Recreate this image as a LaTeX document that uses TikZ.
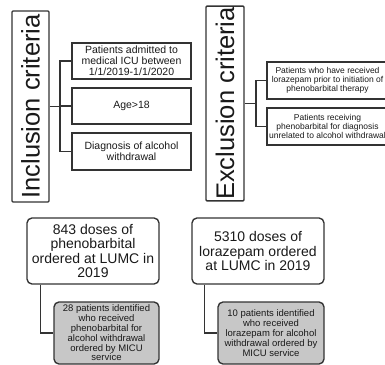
\documentclass[tikz,border=0pt]{standalone}
\usepackage{fontspec}
\setmainfont{Liberation Sans}
\begin{document}
\begin{tikzpicture}[x=1pt,y=-1pt,
  box/.style={draw=black!80, line width=1.35pt, inner sep=1pt, align=center, text=black!90},
  title/.style={box, rotate=90, font=\fontsize{25.5}{27}\selectfont, rounded corners=1pt},
  incl/.style={box, minimum width=119pt, font=\fontsize{10.5}{11.2}\selectfont},
  excl/.style={box, minimum width=121pt, minimum height=37pt, font=\fontsize{8.5}{9}\selectfont},
  big/.style={box, rounded corners=5pt, minimum width=132pt, minimum height=66pt, font=\fontsize{14}{14.6}\selectfont},
  grey/.style={box, rounded corners=5pt, fill=black!22, minimum height=62pt, font=\fontsize{9.5}{9.8}\selectfont},
  conn/.style={draw=black!80, line width=1.35pt}]
\useasboundingbox (0,0) rectangle (385,364);
\clip (0,0) rectangle (385,364);

% Inclusion
\node[title, minimum width=191pt, minimum height=37pt] (inc) at (30.5,106.5) {Inclusion criteria};
\node[incl, minimum height=36pt] (i1) at (131.5,61) {Patients admitted to\\medical ICU between\\1/1/2019-1/1/2020};
\node[incl, minimum height=36pt] (i2) at (131.5,106) {Age>18};
\node[incl, minimum height=37pt] (i3) at (131.5,151.5) {Diagnosis of alcohol\\withdrawal};
\coordinate (it) at (60,106.5);
\draw[conn] (inc.south) -- (it);
\draw[conn] (it) |- (i1.west);
\draw[conn] (it) |- (i2.west);
\draw[conn] (it) |- (i3.west);

% Exclusion
\node[title, minimum width=193pt, minimum height=38pt] (exc) at (225,103.5) {Exclusion criteria};
\node[excl] (e1) at (327.5,80.5) {Patients who have received\\lorazepam prior to initiation of\\phenobarbital therapy};
\node[excl] (e2) at (327.5,126.5) {Patients receiving\\phenobarbital for diagnosis\\unrelated to alcohol withdrawal};
\coordinate (et) at (256,103.5);
\draw[conn] (exc.south) -- (et);
\draw[conn] (et) |- (e1.west);
\draw[conn] (et) |- (e2.west);

% Bottom
\node[big] (b1) at (93,251) {843 doses of\\phenobarbital\\ordered at LUMC in\\2019};
\node[big] (b2) at (258,251) {5310 doses of\\lorazepam ordered\\at LUMC in 2019};
\node[grey, minimum width=105pt] (g1) at (106.5,333) {28 patients identified\\who received\\phenobarbital for\\alcohol withdrawal\\ordered by MICU\\service};
\node[grey, minimum width=106pt] (g2) at (271,333) {10 patients identified\\who received\\lorazepam for alcohol\\withdrawal ordered by\\MICU service};
\draw[conn] ([xshift=14pt]b1.south west) |- (g1.west);
\draw[conn] ([xshift=13pt]b2.south west) |- (g2.west);
\end{tikzpicture}
\end{document}
